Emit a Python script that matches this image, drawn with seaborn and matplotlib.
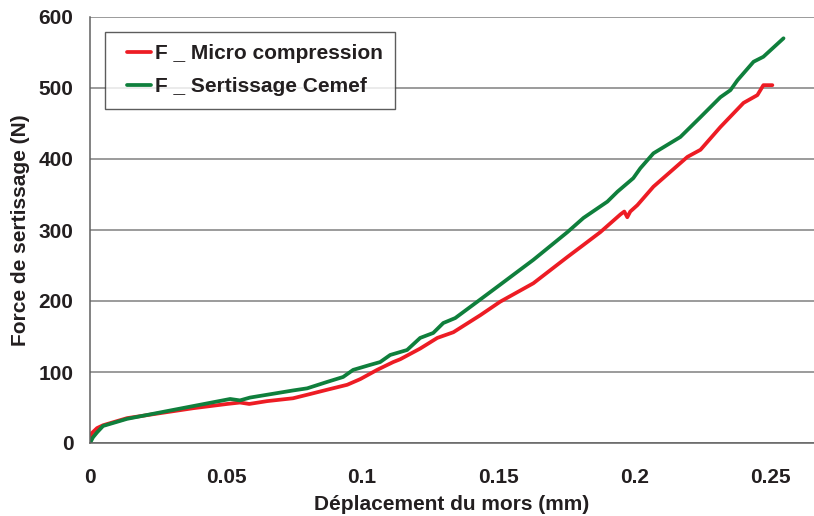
import matplotlib
matplotlib.use('Agg')
import matplotlib.pyplot as plt
import numpy as np
import pandas as pd
import seaborn as sns

# F _ Micro compression
x_micro = [0.0000, 0.0007, 0.0026, 0.0048, 0.0136, 0.0257, 0.0379, 0.0504, 0.0551, 0.0585,
           0.0651, 0.0746, 0.0809, 0.0871, 0.0945, 0.0993, 0.1055, 0.1114, 0.1140, 0.1213,
           0.1276, 0.1335, 0.1434, 0.1507, 0.1629, 0.1754, 0.1813, 0.1875, 0.1949, 0.1963,
           0.1974, 0.1985, 0.2011, 0.2070, 0.2195, 0.2243, 0.2316, 0.2401, 0.2452, 0.2474,
           0.2507]
y_micro = [0, 14, 21, 25, 35, 42, 49, 55, 57, 55,
           59, 63, 69, 75, 82, 90, 103, 114, 118, 133,
           148, 156, 180, 199, 225, 262, 279, 297, 322, 326,
           318, 326, 335, 361, 403, 413, 445, 479, 490, 504,
           504]

# F _ Sertissage Cemef
x_cemef = [0.0000, 0.0011, 0.0026, 0.0048, 0.0136, 0.0257, 0.0379, 0.0515, 0.0551, 0.0588,
           0.0746, 0.0798, 0.0871, 0.0930, 0.0967, 0.1029, 0.1066, 0.1103, 0.1165, 0.1213,
           0.1261, 0.1298, 0.1342, 0.1423, 0.1507, 0.1629, 0.1754, 0.1813, 0.1901, 0.1938,
           0.1996, 0.2022, 0.2070, 0.2169, 0.2243, 0.2316, 0.2342, 0.2353, 0.2379, 0.2438,
           0.2474, 0.2548]
y_cemef = [0, 8, 15, 24, 34, 43, 52, 62, 60, 64,
           74, 77, 86, 93, 103, 110, 114, 124, 131, 148,
           155, 169, 176, 199, 223, 258, 297, 317, 340, 354,
           373, 387, 408, 431, 459, 487, 494, 497, 511, 537,
           544, 570]

labels = ['F _ Micro compression', 'F _ Sertissage Cemef']
colors = ['#ed1c24', '#0f7f3c']
xticks = [0, 0.05, 0.1, 0.15, 0.2, 0.25]
xticklabels = ['0', '0.05', '0.1', '0.15', '0.2', '0.25']
yticks = [0, 100, 200, 300, 400, 500, 600]

df = pd.concat([
    pd.DataFrame({'x': x_micro, 'y': y_micro, 'serie': labels[0]}),
    pd.DataFrame({'x': x_cemef, 'y': y_cemef, 'serie': labels[1]}),
], ignore_index=True)

sns.set_style('white')
plt.rcParams['font.family'] = ['Liberation Sans', 'DejaVu Sans']
plt.rcParams['font.weight'] = 'bold'
fs = 15

fig = plt.figure(figsize=(8.14, 5.16), dpi=100)
ax = fig.add_axes([90/814, 73/516, 724/814, 426/516])

sns.lineplot(data=df, x='x', y='y', hue='serie', palette=colors, sort=False,
             estimator=None, linewidth=2.7, ax=ax)

ax.set_xlim(0, 0.266)
ax.set_ylim(0, 600)
ax.set_xticks(xticks)
ax.set_xticklabels(xticklabels)
ax.set_yticks(yticks)
ax.yaxis.grid(True, color='#808080', linewidth=1.1)
ax.set_axisbelow(True)
for s in ['top', 'right']:
    ax.spines[s].set_visible(False)
for s in ['left', 'bottom']:
    ax.spines[s].set_color('#606060')
    ax.spines[s].set_linewidth(1.1)
ax.tick_params(axis='x', direction='out', length=5, width=1, color='#606060',
               labelsize=fs, pad=13)
ax.tick_params(axis='y', direction='out', length=5, width=1, color='#606060',
               labelsize=fs, pad=7)
for t in ax.get_xticklabels() + ax.get_yticklabels():
    t.set_fontweight('bold')
    t.set_color('#231f20')

ax.set_xlabel('Déplacement du mors (mm)', fontsize=fs, fontweight='bold',
              color='#231f20', labelpad=6)
ax.set_ylabel('Force de sertissage (N)', fontsize=fs, fontweight='bold',
              color='#231f20', labelpad=6)

leg = ax.legend(loc='upper left', bbox_to_anchor=(15/724, 1 - 15/426), fontsize=fs,
                frameon=True, fancybox=False, handlelength=1.6, handletextpad=0.2,
                borderpad=0.6, labelspacing=0.65, borderaxespad=0, title=None)
leg.get_frame().set_edgecolor('#333333')
leg.get_frame().set_linewidth(1.0)
# shorter legend strokes, a bit away from the box edge
for line in leg.get_lines():
    xd = np.asarray(line.get_xdata(), dtype=float)
    line.set_xdata(np.linspace(xd[0] + 7, xd[-1], len(xd)))
for t in leg.get_texts():
    t.set_fontweight('bold')
    t.set_color('#231f20')

fig.savefig('out.png', dpi=100)
